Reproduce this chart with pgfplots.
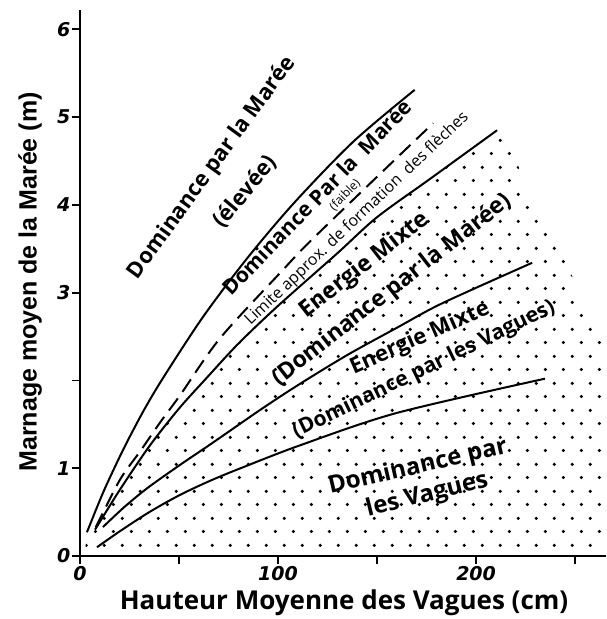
\documentclass[border=0pt]{standalone}
\usepackage{pgfplots}
\pgfplotsset{compat=1.18}
\usepackage{fontspec}
\setmainfont{Open Sans}
\newfontfamily\libsans{Liberation Sans}
\newfontfamily\dejavu{DejaVu Sans}
\usetikzlibrary{patterns.meta}
\tikzdeclarepattern{
  name=hexdots,
  type=uncolored,
  bounding box={(0pt,0pt) and (18.3pt,27pt)},
  tile size={(18.3pt,27pt)},
  code={
    \pgfpathcircle{\pgfpoint{4.575pt}{6.75pt}}{1.75pt}
    \pgfpathcircle{\pgfpoint{13.725pt}{20.25pt}}{1.75pt}
    \pgfusepath{fill}
  }
}
\newcommand{\fs}[1]{\fontsize{#1}{#1}\selectfont}
\begin{document}
\begin{tikzpicture}
\begin{axis}[
  scale only axis, width=526pt, height=546pt,
  xmin=0, xmax=265.6, ymin=0, ymax=6.22,
  axis lines=left,
  axis line style={-, line width=2.4pt},
  xtick={0,50,100,150,200,250}, xticklabels={0,,100,,200,},
  ytick={0,1,2,3,4,5,6}, yticklabels={0,1,,3,4,5,6},
  tick align=outside, major tick length=8pt,
  tick style={line width=1.8pt, black},
  ticklabel style={font=\dejavu\bfseries\itshape\fs{19}},
  yticklabel style={inner sep=1.5pt},
  xticklabel style={inner sep=2pt},
  clip=false,
  xlabel={Hauteur Moyenne des Vagues (cm)},
  ylabel={Marnage moyen de la Marée (m)},
  xlabel style={at={(axis description cs:0.502,-0.086)}, anchor=center, font=\bfseries\fs{26}},
  ylabel style={at={(axis description cs:-0.095,0.502)}, anchor=center, font=\libsans\bfseries\fs{25}},
]
% stippled region (below the Limite curve)
\addplot[draw=none, pattern=hexdots, pattern color=black] coordinates {
  (2,0) (3,0.15) (7.6,0.3) (20,0.75) (35,1.25) (50,1.68) (64,2.03) (80,2.42)
  (100,2.85) (130,3.45) (150,3.86) (177,4.3) (210.6,4.85) (205,5.19)
  (265.6,2.4) (265.6,0)
} \closedcycle;

% Curve A: upper limit of tide dominance (high)
\addplot[black, line width=2pt, smooth] coordinates {
  (3.5,0.27) (12,0.74) (22,1.22) (32,1.65) (42,2.03) (62,2.72) (84,3.38) (108,4.02) (138,4.72) (169,5.31)
};
% Curve B: dashed, approx. limit of spit formation
\addplot[black, line width=2pt, smooth, dash pattern=on 15pt off 8pt] coordinates {
  (8,0.33) (20.2,0.87) (30.3,1.19) (40.4,1.52) (50.5,1.83) (70.7,2.48) (102.5,3.26) (116,3.58) (150,4.32) (178.3,4.93)
};
% Curve C
\addplot[black, line width=2pt, smooth] coordinates {
  (7.6,0.3) (20,0.75) (35,1.25) (50,1.68) (64,2.03) (80,2.42) (100,2.85) (130,3.45) (150,3.86) (177,4.3) (210.6,4.85)
};
% Curve D
\addplot[black, line width=2pt, smooth] coordinates {
  (11.6,0.33) (22,0.55) (33.8,0.77) (50,1.03) (67,1.29) (92,1.68) (111,1.96) (135,2.29) (160,2.6) (183,2.88) (228.3,3.34)
};
% Curve E
\addplot[black, line width=2pt, smooth] coordinates {
  (8.6,0.1) (20,0.28) (35,0.5) (50,0.69) (65,0.85) (80,0.99) (111,1.26) (160,1.63) (234.8,2.02)
};

% labels
\node[rotate=54, font=\bfseries\fs{22}, inner sep=0pt] at (axis cs:66.7,4.42) {Dominance par la Marée};
\node[rotate=50, font=\bfseries\fs{22}, inner sep=0pt] at (axis cs:83.3,4.15) {(élevée)};
\node[rotate=46, font=\bfseries\fs{21}, inner sep=0pt] at (axis cs:119.6,4.09) {Dominance Par la\ \ Marée};
\node[rotate=46, font=\fs{12}, inner sep=0pt] at (axis cs:133.8,4.11) {(faible)};
\node[rotate=43.5, font=\fs{16}, inner sep=0pt] at (axis cs:139.9,3.84) {Limite approx. de formation\ \ des flèches};
\node[rotate=38, font=\bfseries\fs{23}, inner sep=0pt] at (axis cs:143.9,3.31) {Energie Mixte};
\node[rotate=38, font=\bfseries\fs{23}, inner sep=0pt] at (axis cs:157.6,3.03) {(Dominance par la Marée)};
\node[rotate=24, font=\bfseries\fs{22}, inner sep=0pt] at (axis cs:171.7,2.48) {Energie Mixte};
\node[rotate=26, font=\bfseries\fs{21}, inner sep=0pt] at (axis cs:173.7,2.12) {(Dominance par les Vagues)};
\node[rotate=13, font=\bfseries\fs{24}, inner sep=0pt] at (axis cs:170.7,1.01) {Dominance par};
\node[rotate=14, font=\bfseries\fs{24}, inner sep=0pt] at (axis cs:175.3,0.69) {les Vagues};
\end{axis}
\pgfresetboundingbox
\path ([shift={(-80pt,-63pt)}]current axis.south west) rectangle ([shift={(0pt,10pt)}]current axis.north east);
\end{tikzpicture}
\end{document}
